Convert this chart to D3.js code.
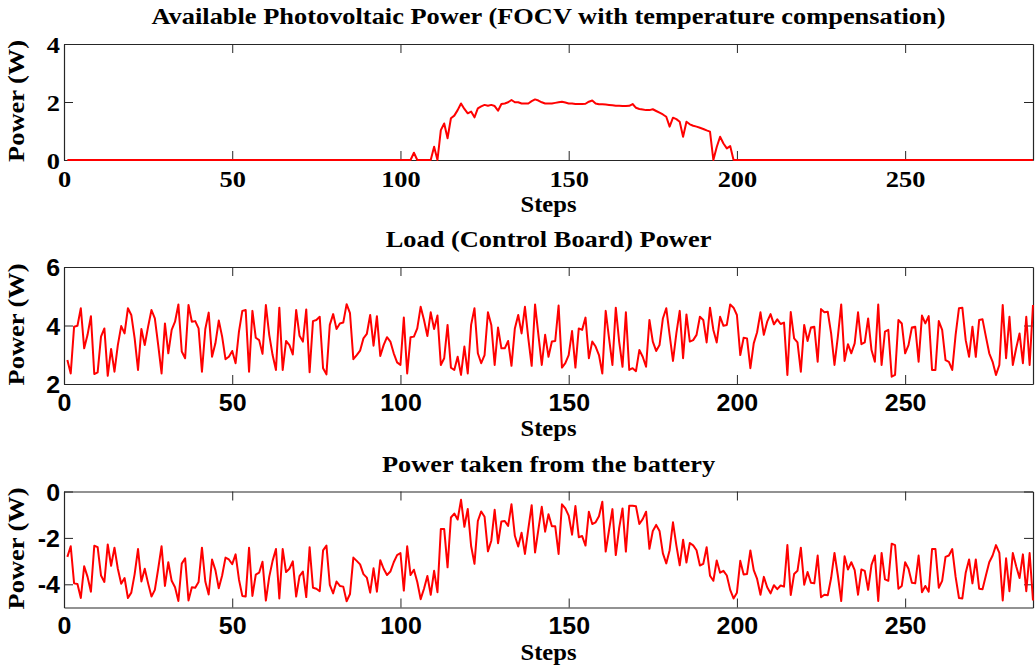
<!DOCTYPE html>
<html>
<head>
<meta charset="utf-8">
<script src="https://cdn.jsdelivr.net/npm/d3@7"></script>
<style>
  body { margin: 0; background: #fff; }
  svg { display: block; }
</style>
</head>
<body>
<svg id="fig" width="1036" height="671"></svg>
<script>
// Simulation steps 1..288
const stepCount = 288;

// Available photovoltaic power (W), one value per step
const pvPower = [
  0,0,0,0,0,0,0,0,0,0,
  0,0,0,0,0,0,0,0,0,0,
  0,0,0,0,0,0,0,0,0,0,
  0,0,0,0,0,0,0,0,0,0,
  0,0,0,0,0,0,0,0,0,0,
  0,0,0,0,0,0,0,0,0,0,
  0,0,0,0,0,0,0,0,0,0,
  0,0,0,0,0,0,0,0,0,0,
  0,0,0,0,0,0,0,0,0,0,
  0,0,0,0,0,0,0,0,0,0,
  0,0,0,0.25,0,0,0,0,0,0.46,
  0,1.03,1.26,0.75,1.44,1.53,1.72,1.95,1.76,1.61,
  1.67,1.47,1.78,1.85,1.90,1.87,1.90,1.86,1.70,1.93,
  1.95,1.99,2.07,1.99,1.99,1.95,1.95,1.95,2.03,2.09,
  2.05,1.99,1.95,1.95,1.95,1.97,1.99,2.01,1.98,1.95,
  1.95,1.93,1.93,1.93,1.94,2.01,2.05,1.95,1.92,1.92,
  1.91,1.90,1.89,1.87,1.87,1.86,1.86,1.87,1.93,1.80,
  1.76,1.74,1.72,1.72,1.75,1.69,1.63,1.57,1.49,1.15,
  1.46,1.41,1.32,0.80,1.32,1.23,1.18,1.15,1.11,1.07,
  1.02,0.98,0,0.45,0.80,0.57,0.40,0.48,0,0,
  0,0,0,0,0,0,0,0,0,0,
  0,0,0,0,0,0,0,0,0,0,
  0,0,0,0,0,0,0,0,0,0,
  0,0,0,0,0,0,0,0,0,0,
  0,0,0,0,0,0,0,0,0,0,
  0,0,0,0,0,0,0,0,0,0,
  0,0,0,0,0,0,0,0,0,0,
  0,0,0,0,0,0,0,0,0,0,
  0,0,0,0,0,0,0,0
];

// Control board load power (W)
const loadPower = [
  2.82,2.36,3.96,3.99,4.59,3.22,3.68,4.32,2.34,2.40,
  3.62,3.90,2.28,3.20,2.42,3.33,3.98,3.73,4.59,4.36,
  3.56,2.48,3.88,3.33,3.96,4.53,4.24,3.33,2.36,4.07,
  3.05,3.85,4.13,4.72,3.11,2.88,4.70,4.13,4.15,3.90,
  2.42,3.88,4.44,2.93,3.39,4.17,3.62,2.85,2.93,3.13,
  2.71,3.79,4.50,4.53,2.42,4.50,3.58,3.50,3.03,4.70,
  3.68,2.99,2.48,4.61,2.48,3.47,3.33,3.01,4.53,3.65,
  3.45,4.55,2.40,4.15,4.19,4.30,2.54,2.33,4.02,4.39,
  3.88,4.07,4.10,4.73,4.42,2.85,2.99,3.14,3.56,3.71,
  4.36,3.31,4.32,2.96,3.33,3.60,3.45,3.05,2.74,2.65,
  4.27,2.36,3.60,3.62,3.90,4.64,4.19,3.64,4.45,3.88,
  4.34,2.65,2.88,4.02,2.56,2.48,2.93,2.31,3.28,2.36,
  4.02,4.59,3.05,2.71,2.99,4.45,4.02,2.65,3.93,3.22,
  3.22,3.47,2.62,3.90,4.36,3.73,4.64,3.56,2.62,4.72,
  3.68,2.65,3.68,2.93,3.45,3.47,4.68,2.56,2.71,2.99,
  3.81,2.56,3.90,3.85,4.27,2.88,3.45,3.28,2.99,2.36,
  4.50,3.56,2.65,4.61,3.45,2.59,4.45,2.48,2.54,2.44,
  3.16,2.93,2.59,4.19,3.45,3.13,3.33,4.24,4.59,3.68,
  2.79,3.73,4.50,2.88,4.38,3.45,3.50,3.68,4.30,4.19,
  3.42,4.61,3.85,3.42,4.30,3.99,4.02,4.72,4.61,4.36,
  2.99,3.58,3.56,2.54,3.39,3.77,4.45,3.68,4.13,4.39,
  4.04,4.21,4.05,4.10,2.31,4.46,3.56,3.42,2.42,4.02,
  3.47,3.93,3.96,2.76,4.56,4.45,4.47,3.73,2.65,3.62,
  4.72,2.79,3.36,3.05,3.39,4.45,3.36,3.42,4.24,3.16,
  2.76,4.72,2.65,3.79,3.85,2.25,2.31,4.19,4.07,3.05,
  3.33,3.93,3.96,2.76,4.34,4.07,4.32,2.48,2.48,4.15,
  3.85,2.82,2.76,2.48,3.68,4.59,4.61,3.50,2.93,3.96,
  2.93,4.19,4.21,3.62,3.05,2.76,2.31,2.65,4.70,2.88,
  4.30,2.65,3.22,3.73,2.71,4.30,2.65,4.70
];

// Power taken from the battery (W)
const batteryPower = [
  -2.82,-2.36,-3.96,-3.99,-4.59,-3.22,-3.68,-4.32,-2.34,-2.40,
  -3.62,-3.90,-2.28,-3.20,-2.42,-3.33,-3.98,-3.73,-4.59,-4.36,
  -3.56,-2.48,-3.88,-3.33,-3.96,-4.53,-4.24,-3.33,-2.36,-4.07,
  -3.05,-3.85,-4.13,-4.72,-3.11,-2.88,-4.70,-4.13,-4.15,-3.90,
  -2.42,-3.88,-4.44,-2.93,-3.39,-4.17,-3.62,-2.85,-2.93,-3.13,
  -2.71,-3.79,-4.50,-4.53,-2.42,-4.50,-3.58,-3.50,-3.03,-4.70,
  -3.68,-2.99,-2.48,-4.61,-2.48,-3.47,-3.33,-3.01,-4.53,-3.65,
  -3.45,-4.55,-2.40,-4.15,-4.19,-4.30,-2.54,-2.33,-4.02,-4.39,
  -3.88,-4.07,-4.10,-4.73,-4.42,-2.85,-2.99,-3.14,-3.56,-3.71,
  -4.36,-3.31,-4.32,-2.96,-3.33,-3.60,-3.45,-3.05,-2.74,-2.65,
  -4.27,-2.36,-3.60,-3.37,-3.90,-4.64,-4.19,-3.64,-4.45,-3.42,
  -4.34,-1.62,-1.62,-3.27,-1.12,-0.95,-1.21,-0.36,-1.52,-0.75,
  -2.35,-3.12,-1.27,-0.86,-1.09,-2.58,-2.12,-0.79,-2.23,-1.29,
  -1.27,-1.48,-0.55,-1.91,-2.37,-1.78,-2.69,-1.61,-0.59,-2.63,
  -1.63,-0.66,-1.73,-0.98,-1.50,-1.50,-2.69,-0.55,-0.73,-1.04,
  -1.86,-0.63,-1.97,-1.92,-2.33,-0.87,-1.40,-1.33,-1.07,-0.44,
  -2.59,-1.66,-0.76,-2.74,-1.58,-0.73,-2.59,-0.61,-0.61,-0.64,
  -1.40,-1.19,-0.87,-2.47,-1.70,-1.44,-1.70,-2.67,-3.10,-2.53,
  -1.33,-2.32,-3.18,-2.08,-3.06,-2.22,-2.32,-2.53,-3.19,-3.12,
  -2.40,-3.63,-3.85,-2.97,-3.50,-3.42,-3.62,-4.24,-4.61,-4.36,
  -2.99,-3.58,-3.56,-2.54,-3.39,-3.77,-4.45,-3.68,-4.13,-4.39,
  -4.04,-4.21,-4.05,-4.10,-2.31,-4.46,-3.56,-3.42,-2.42,-4.02,
  -3.47,-3.93,-3.96,-2.76,-4.56,-4.45,-4.47,-3.73,-2.65,-3.62,
  -4.72,-2.79,-3.36,-3.05,-3.39,-4.45,-3.36,-3.42,-4.24,-3.16,
  -2.76,-4.72,-2.65,-3.79,-3.85,-2.25,-2.31,-4.19,-4.07,-3.05,
  -3.33,-3.93,-3.96,-2.76,-4.34,-4.07,-4.32,-2.48,-2.48,-4.15,
  -3.85,-2.82,-2.76,-2.48,-3.68,-4.59,-4.61,-3.50,-2.93,-3.96,
  -2.93,-4.19,-4.21,-3.62,-3.05,-2.76,-2.31,-2.65,-4.70,-2.88,
  -4.30,-2.65,-3.22,-3.73,-2.71,-4.30,-2.65,-4.70
];

// Axis ticks and labels
const xTicks = [0, 50, 100, 150, 200, 250];
const xDomain = [0, 288];
const pvTicks = [0, 2, 4];
const loadTicks = [2, 4, 6];
const batteryTicks = [-4, -2, 0];
const titles = [
  "Available Photovoltaic Power (FOCV with temperature compensation)",
  "Load (Control Board) Power",
  "Power taken from the battery"
];
const xLabel = "Steps";
const yLabel = "Power (W)";

const SERIF = "'Liberation Serif', 'Times New Roman', Times, serif";
const SANS = "'Liberation Sans', Arial, Helvetica, sans-serif";
const WIDEN = 1.1;          // horizontal stretch for the serif text
const WIDEN_SANS = 1.04;    // horizontal stretch for the sans tick labels
const AXIS_COLOR = "#262626";
const LINE_COLOR = "#ff0000";

const svg = d3.select("#fig");
const left = 64, right = 1033;

const panels = [
  { top: 44,    bottom: 160,   yDomain: [0, 4],  yTicks: pvTicks,      values: pvPower,      tickFont: SERIF, tickWiden: WIDEN,      title: titles[0] },
  { top: 267,   bottom: 384,   yDomain: [2, 6],  yTicks: loadTicks,    values: loadPower,    tickFont: SANS,  tickWiden: WIDEN_SANS, title: titles[1] },
  { top: 491.5, bottom: 607.5, yDomain: [-5, 0], yTicks: batteryTicks, values: batteryPower, tickFont: SANS,  tickWiden: WIDEN_SANS, title: titles[2] }
];

function drawPanel(p) {
  const x = d3.scaleLinear().domain(xDomain).range([left, right]);
  const y = d3.scaleLinear().domain(p.yDomain).range([p.bottom, p.top]);
  const g = svg.append("g");
  const fmt = d => String(d);

  // tick marks on all four sides, pointing inward
  const bottomAxis = g.append("g").attr("transform", `translate(0,${p.bottom})`)
    .call(d3.axisBottom(x).tickValues(xTicks).tickSizeInner(-9).tickSizeOuter(0).tickFormat(fmt));
  g.append("g").attr("transform", `translate(0,${p.top})`)
    .call(d3.axisTop(x).tickValues(xTicks).tickSizeInner(-9).tickSizeOuter(0).tickFormat(""));
  const leftAxis = g.append("g").attr("transform", `translate(${left},0)`)
    .call(d3.axisLeft(y).tickValues(p.yTicks).tickSizeInner(-9).tickSizeOuter(0).tickFormat(fmt));
  g.append("g").attr("transform", `translate(${right},0)`)
    .call(d3.axisRight(y).tickValues(p.yTicks).tickSizeInner(-9).tickSizeOuter(0).tickFormat(""));

  g.selectAll(".domain").attr("stroke", AXIS_COLOR).attr("stroke-width", 1.2);
  g.selectAll(".tick line").attr("stroke", AXIS_COLOR).attr("stroke-width", 1);

  bottomAxis.selectAll(".tick text")
    .attr("y", 27).attr("dy", null)
    .attr("fill", "#000")
    .style("font-family", p.tickFont).style("font-weight", "bold").style("font-size", "24px")
    .attr("transform", `scale(${p.tickWiden},1)`);
  leftAxis.selectAll(".tick text")
    .attr("x", 0).attr("dy", null).attr("y", 8.5)
    .attr("text-anchor", "end")
    .attr("fill", "#000")
    .style("font-family", p.tickFont).style("font-weight", "bold").style("font-size", "24px")
    .attr("transform", `translate(-4,0) scale(${p.tickWiden},1)`);
  g.selectAll(".tick text").attr("font-family", null).attr("font-size", null);

  // data line
  const line = d3.line()
    .x((d, i) => x(i + 1))
    .y(d => y(d));
  g.append("path")
    .datum(p.values)
    .attr("fill", "none")
    .attr("stroke", LINE_COLOR)
    .attr("stroke-width", 2)
    .attr("stroke-linejoin", "round")
    .attr("d", line);

  const cx = (left + right) / 2;
  // title
  g.append("text")
    .attr("transform", `translate(${cx},${p.top - 20}) scale(${WIDEN},1)`)
    .attr("text-anchor", "middle")
    .style("font-family", SERIF).style("font-weight", "bold").style("font-size", "24px")
    .text(p.title);
  // x label
  g.append("text")
    .attr("transform", `translate(${cx},${p.bottom + 52}) scale(1.07,1)`)
    .attr("text-anchor", "middle")
    .style("font-family", SERIF).style("font-weight", "bold").style("font-size", "23px")
    .text(xLabel);
  // y label
  g.append("text")
    .attr("transform", `translate(24,${(p.top + p.bottom) / 2 - 1}) rotate(-90) scale(${WIDEN},1)`)
    .attr("text-anchor", "middle")
    .style("font-family", SERIF).style("font-weight", "bold").style("font-size", "24px")
    .text(yLabel);
}

panels.forEach(drawPanel);
</script>
</body>
</html>
